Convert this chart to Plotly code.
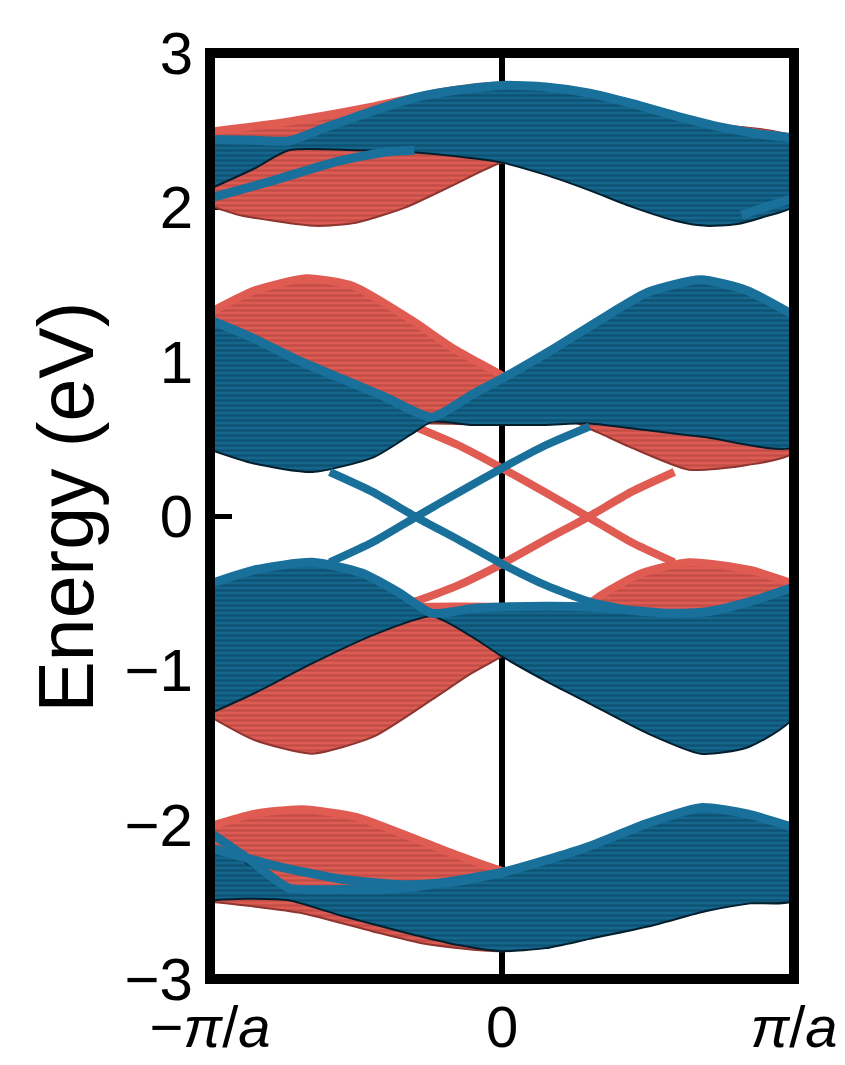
import plotly.graph_objects as go

# ---------------- data (k in units of pi/a, E in eV) ----------------
# Family A (top bands)
A_blue_top_k = [-1, -0.85, -0.73, -0.6, -0.45, -0.3, -0.15, 0, 0.15, 0.3, 0.45, 0.6, 0.75, 0.9, 1]
A_blue_top_E = [2.44, 2.435, 2.43, 2.52, 2.62, 2.71, 2.76, 2.79, 2.78, 2.74, 2.67, 2.59, 2.52, 2.47, 2.45]
A_blue_bot_k = [-1, -0.85, -0.73, -0.5, -0.33, -0.15, 0, 0.15, 0.3, 0.45, 0.6, 0.7, 0.8, 0.9, 1]
A_blue_bot_E = [2.12, 2.25, 2.37, 2.37, 2.36, 2.33, 2.29, 2.21, 2.11, 2.00, 1.91, 1.88, 1.89, 1.94, 2.01]
A_blue_edge_k = [-1, -0.79, -0.56, -0.39, -0.3]
A_blue_edge_E = [2.06, 2.17, 2.30, 2.36, 2.37]
A_blue_edge2_k = [0.82, 0.9, 1]
A_blue_edge2_E = [1.95, 2.00, 2.06]
A_red_top_k = [-1, -0.75, -0.45, -0.2, 0, 0.3, 0.6, 1]
A_red_top_E = [2.49, 2.55, 2.65, 2.75, 2.79, 2.70, 2.56, 2.45]
A_red_bot_k = [-1, -0.9, -0.64, -0.5, -0.33, -0.16, 0, 0.33, 0.73, 1]
A_red_bot_E = [2.01, 1.95, 1.88, 1.90, 2.00, 2.15, 2.29, 2.36, 2.37, 2.12]

# Family B (upper middle bands)
B_blue_top_k = [-1, -0.85, -0.7, -0.55, -0.4, -0.24, -0.1, 0, 0.165, 0.37, 0.5, 0.68, 0.84, 1]
B_blue_top_E = [1.27, 1.15, 1.01, 0.89, 0.77, 0.64, 0.79, 0.89, 1.07, 1.31, 1.45, 1.53, 1.46, 1.30]
B_blue_bot_k = [-1, -0.85, -0.65, -0.44, -0.31, -0.24, -0.1, 0, 0.15, 0.3, 0.5, 0.7, 1]
B_blue_bot_E = [0.43, 0.34, 0.285, 0.38, 0.53, 0.61, 0.59, 0.59, 0.59, 0.60, 0.555, 0.51, 0.45]
B_red_top_k = [-1, -0.85, -0.67, -0.51, -0.31, -0.17, 0, 0.24, 0.4, 0.55, 0.7, 0.85, 1]
B_red_top_E = [1.32, 1.46, 1.54, 1.49, 1.27, 1.09, 0.91, 0.64, 0.77, 0.89, 1.01, 1.15, 1.27]
B_red_bot_k = [-1, -0.7, -0.5, -0.3, 0, 0.24, 0.33, 0.435, 0.64, 0.84, 1]
B_red_bot_E = [0.45, 0.51, 0.555, 0.60, 0.59, 0.61, 0.54, 0.45, 0.30, 0.33, 0.415]

# Family C (lower middle bands)
C_blue_top_k = [-1, -0.85, -0.65, -0.48, -0.35, -0.24, -0.1, 0, 0.165, 0.3, 0.435, 0.57, 0.705, 0.84, 1]
C_blue_top_E = [-0.44, -0.35, -0.30, -0.37, -0.50, -0.63, -0.60, -0.59, -0.585, -0.59, -0.61, -0.63, -0.62, -0.56, -0.46]
C_blue_bot_k = [-1, -0.85, -0.65, -0.44, -0.24, -0.105, 0, 0.165, 0.3, 0.5, 0.68, 0.84, 1]
C_blue_bot_E = [-1.28, -1.15, -0.955, -0.77, -0.65, -0.78, -0.91, -1.085, -1.215, -1.41, -1.54, -1.50, -1.30]
C_red_top_k = [-1, -0.84, -0.7, -0.57, -0.43, -0.3, 0, 0.24, 0.35, 0.48, 0.64, 0.85, 1]
C_red_top_E = [-0.46, -0.56, -0.62, -0.63, -0.61, -0.59, -0.59, -0.63, -0.50, -0.37, -0.30, -0.35, -0.44]
C_red_bot_k = [-1, -0.85, -0.65, -0.44, -0.24, -0.105, 0, 0.24, 0.44, 0.65, 0.85, 1]
C_red_bot_E = [-1.30, -1.45, -1.54, -1.43, -1.19, -1.02, -0.91, -0.65, -0.77, -0.955, -1.15, -1.28]

# Family D (bottom bands)
D_blue_top_k = [-1, -0.9, -0.73, -0.55, -0.4, -0.28, -0.15, 0, 0.15, 0.3, 0.5, 0.68, 0.84, 1]
D_blue_top_E = [-2.15, -2.22, -2.41, -2.42, -2.42, -2.40, -2.36, -2.31, -2.23, -2.14, -1.99, -1.89, -1.93, -2.02]
D_blue_bot_k = [-1, -0.88, -0.73, -0.55, -0.33, -0.15, 0, 0.15, 0.3, 0.5, 0.7, 0.85, 1]
D_blue_bot_E = [-2.49, -2.48, -2.49, -2.59, -2.70, -2.78, -2.82, -2.80, -2.74, -2.66, -2.56, -2.51, -2.49]
D_blue_edge1_k = [-1, -0.87, -0.73, -0.55, -0.4, -0.28]
D_blue_edge1_E = [-2.05, -2.22, -2.41, -2.42, -2.42, -2.40]
D_blue_edge2_k = [-1, -0.79, -0.56, -0.33, -0.16, 0]
D_blue_edge2_E = [-2.15, -2.26, -2.35, -2.39, -2.37, -2.31]
D_red_top_k = [-1, -0.85, -0.685, -0.5, -0.3, -0.15, 0, 0.3, 0.55, 0.73, 0.9, 1]
D_red_top_E = [-2.01, -1.93, -1.90, -1.95, -2.09, -2.20, -2.30, -2.40, -2.42, -2.41, -2.20, -2.05]
D_red_bot_k = [-1, -0.85, -0.68, -0.445, -0.27, 0, 0.33, 0.73, 1]
D_red_bot_E = [-2.50, -2.53, -2.575, -2.69, -2.77, -2.82, -2.70, -2.47, -2.49]

# In-gap edge states
S1_k = [-0.59, -0.443, -0.295, -0.146, 0, 0.151, 0.3, 0.435]
S1_E = [0.285, 0.156, -0.006, -0.157, -0.31, -0.45, -0.555, -0.61]
S2_k = [-0.59, -0.443, -0.295, -0.146, 0, 0.151, 0.3]
S2_E = [-0.30, -0.17, -0.006, 0.156, 0.31, 0.46, 0.58]
R1_k = [-0.3, -0.151, 0, 0.146, 0.295, 0.443, 0.59]
R1_E = [0.58, 0.46, 0.31, 0.156, -0.006, -0.17, -0.30]
R2_k = [-0.435, -0.3, -0.151, 0, 0.146, 0.295, 0.443, 0.59]
R2_E = [-0.61, -0.555, -0.45, -0.31, -0.157, -0.006, 0.156, 0.285]

y_ticks = [-3, -2, -1, 0, 1, 2, 3]
y_tick_text = ["\u22123", "\u22122", "\u22121", "0", "1", "2", "3"]
x_ticks = [-1, 0, 1]
x_tick_text = ["\u2212<i>\u03c0</i>/<i>a</i>", "0", "<i>\u03c0</i>/<i>a</i>"]

# ---------------- styles ----------------
BLUE_BG = "#14668c"
BLUE_FG = "#053d58"
BLUE_DARK = "#031f2e"
BLUE_EDGE = "#18709b"
RED_BG = "#dc5b53"
RED_FG = "#a63f39"
RED_EDGE = "#e05b52"
FONT = "Liberation Sans, Arial, sans-serif"
SMOOTH = 0.6

fig = go.Figure()


def ribbon(tk, te, bk, be, bg, fg, edge):
    fig.add_trace(go.Scatter(
        x=list(tk) + list(bk)[::-1], y=list(te) + list(be)[::-1],
        mode="lines", fill="toself", fillcolor=bg,
        fillpattern=dict(shape="-", bgcolor=bg, fgcolor=fg, size=5, solidity=0.45),
        line=dict(color=edge, width=2, shape="spline", smoothing=SMOOTH),
        hoverinfo="skip", showlegend=False))


def curve(k, e, color, width):
    fig.add_trace(go.Scatter(
        x=k, y=e, mode="lines",
        line=dict(color=color, width=width, shape="spline", smoothing=SMOOTH),
        hoverinfo="skip", showlegend=False))


# red ribbons (underneath)
for tk, te, bk, be in [(A_red_top_k, A_red_top_E, A_red_bot_k, A_red_bot_E),
                       (B_red_top_k, B_red_top_E, B_red_bot_k, B_red_bot_E),
                       (C_red_top_k, C_red_top_E, C_red_bot_k, C_red_bot_E),
                       (D_red_top_k, D_red_top_E, D_red_bot_k, D_red_bot_E)]:
    ribbon(tk, te, bk, be, RED_BG, RED_FG, "#8e3530")
    curve(tk, te, RED_EDGE, 8)

# red in-gap states
curve(R1_k, R1_E, RED_EDGE, 8)
curve(R2_k, R2_E, RED_EDGE, 8)

# blue ribbons (on top)
for tk, te, bk, be in [(A_blue_top_k, A_blue_top_E, A_blue_bot_k, A_blue_bot_E),
                       (B_blue_top_k, B_blue_top_E, B_blue_bot_k, B_blue_bot_E),
                       (C_blue_top_k, C_blue_top_E, C_blue_bot_k, C_blue_bot_E),
                       (D_blue_top_k, D_blue_top_E, D_blue_bot_k, D_blue_bot_E)]:
    ribbon(tk, te, bk, be, BLUE_BG, BLUE_FG, BLUE_DARK)

# blue thick edges
D_top_right_k = [k for k in D_blue_top_k if k >= -0.28]
D_top_right_E = [e for k, e in zip(D_blue_top_k, D_blue_top_E) if k >= -0.28]
for k, e in [(A_blue_top_k, A_blue_top_E), (A_blue_edge_k, A_blue_edge_E),
             (A_blue_edge2_k, A_blue_edge2_E), (B_blue_top_k, B_blue_top_E),
             (C_blue_top_k, C_blue_top_E), (D_top_right_k, D_top_right_E),
             (D_blue_edge1_k, D_blue_edge1_E), (D_blue_edge2_k, D_blue_edge2_E)]:
    curve(k, e, BLUE_EDGE, 9)

# blue in-gap states
curve(S1_k, S1_E, BLUE_EDGE, 8)
curve(S2_k, S2_E, BLUE_EDGE, 8)

# vertical line at k = 0 (below the bands) and frame (above)
fig.add_shape(type="line", xref="x", yref="y", x0=0, x1=0, y0=-3, y1=3,
              line=dict(color="black", width=6), layer="below")
fig.add_shape(type="rect", xref="paper", yref="paper", x0=0, x1=1, y0=0, y1=1,
              line=dict(color="black", width=10), layer="above")

fig.add_annotation(text="Energy (eV)", xref="paper", yref="paper", x=-0.247, y=0.51,
                   textangle=-90, showarrow=False, xanchor="center", yanchor="middle",
                   font=dict(family=FONT, size=77, color="black"))

fig.update_layout(
    width=845, height=1065,
    margin=dict(l=209.5, r=50.5, t=52.5, b=86, pad=0, autoexpand=False),
    paper_bgcolor="white", plot_bgcolor="white",
    showlegend=False,
    xaxis=dict(range=[-1, 1], showgrid=False, zeroline=False, showline=False,
               automargin=False,
               tickmode="array", tickvals=x_ticks, ticktext=x_tick_text, ticks="",
               tickfont=dict(family=FONT, size=58, color="black"),
               ticklabelstandoff=9, layer="below traces"),
    yaxis=dict(range=[-3, 3], showgrid=False, zeroline=False, showline=False,
               automargin=False,
               tickmode="array", tickvals=y_ticks, ticktext=y_tick_text,
               ticks="inside", ticklen=22, tickwidth=5, tickcolor="black",
               tickfont=dict(family=FONT, size=60, color="black"),
               ticklabelstandoff=16, layer="below traces"),
)

fig.write_html("out.html")
